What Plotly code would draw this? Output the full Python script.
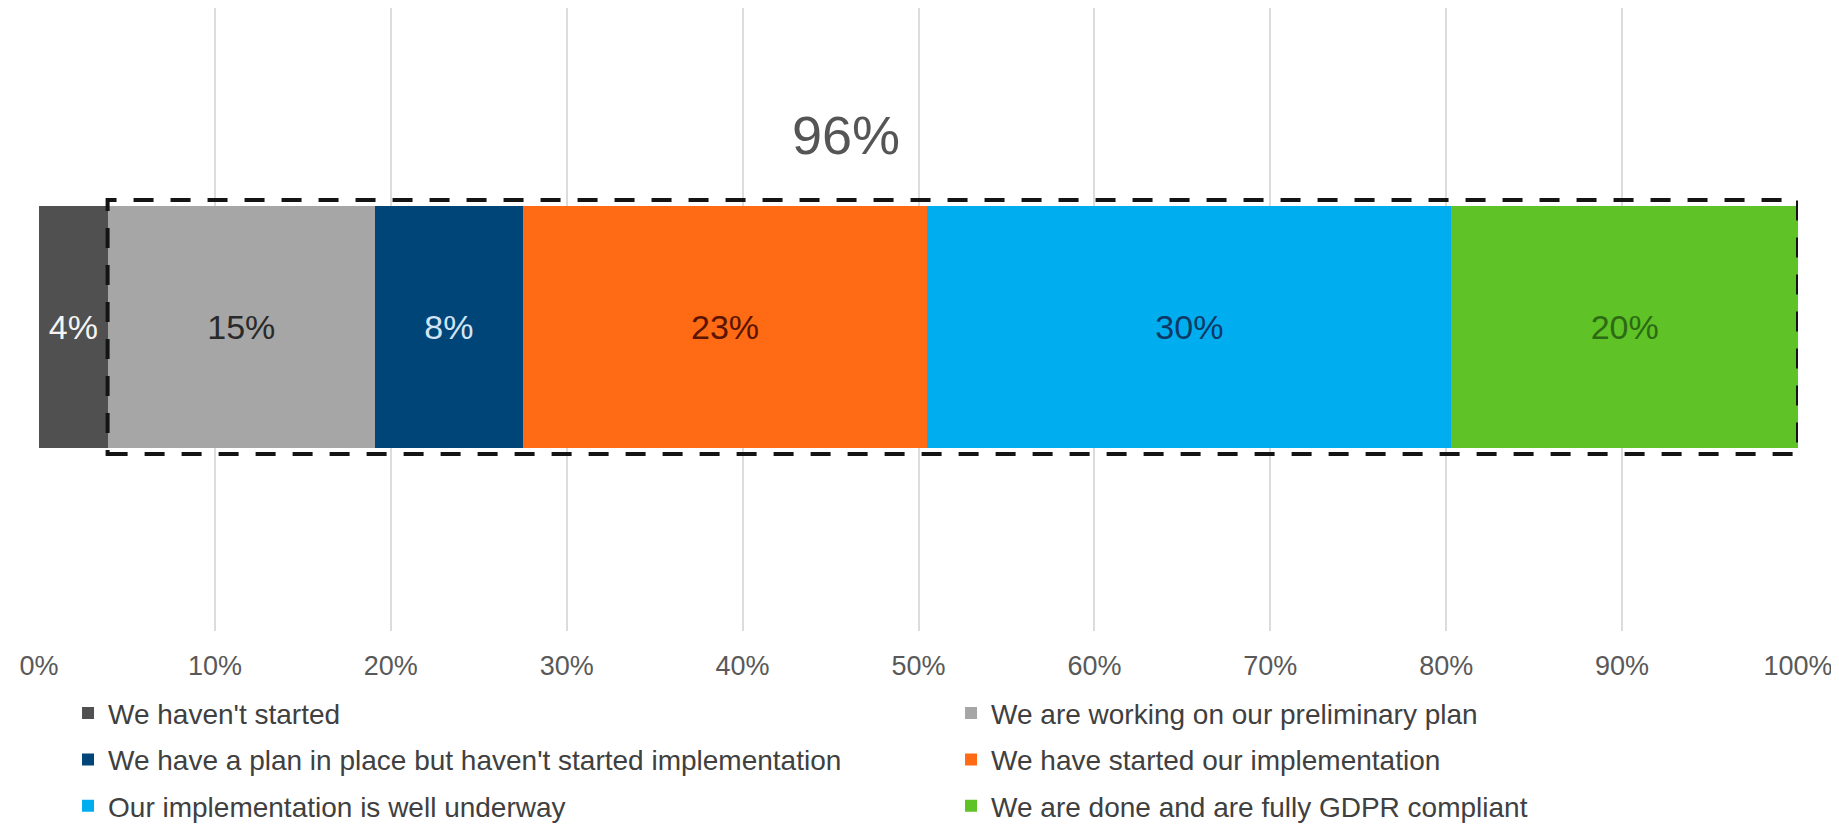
import plotly.graph_objects as go

# ---- data ----
categories = ["GDPR"]
series_names = [
    "We haven't started",
    "We are working on our preliminary plan",
    "We have a plan in place but haven't started implementation",
    "We have started our implementation",
    "Our implementation is well underway",
    "We are done and are fully GDPR compliant",
]
series_values = [3.9, 15.2, 8.4, 23.0, 29.8, 19.7]
series_colors = ["#505050", "#a6a6a6", "#004578", "#ff6a14", "#00aeef", "#5fc226"]
label_colors = ["#f4f4f4", "#2a2a2a", "#d2e4f4", "#5a1400", "#0b3a66", "#2c6a14"]
tick_values = [0, 10, 20, 30, 40, 50, 60, 70, 80, 90, 100]
tick_labels = ["0%", "10%", "20%", "30%", "40%", "50%", "60%", "70%", "80%", "90%", "100%"]

FONT = "Liberation Sans, Arial, sans-serif"

fig = go.Figure()
for i, (name, val, col, lcol) in enumerate(zip(series_names, series_values, series_colors, label_colors)):
    fig.add_trace(go.Bar(
        name=name,
        x=[val],
        y=[0],
        orientation="h",
        width=1.0,
        marker=dict(color=col, line=dict(width=0)),
        text=[f"{val:.0f}%"],
        textposition="inside",
        insidetextanchor="middle",
        constraintext="none",
        textfont=dict(family=FONT, size=34, color=lcol),
        hoverinfo="name+x",
        legend="legend" if i % 2 == 0 else "legend2",
        legendgroup=f"g{i}",
    ))

# dashed box around everything except the first segment
box_x0 = series_values[0]
box_x1 = sum(series_values)
fig.add_shape(
    type="rect", xref="x", yref="y",
    x0=box_x0, x1=box_x1, y0=-0.525, y1=0.525,
    line=dict(color="#141414", width=4, dash="20px,17px"),
    fillcolor="rgba(0,0,0,0)",
    layer="above",
)

share = sum(series_values[1:])
fig.add_annotation(
    x=0.459, y=0.796, xref="paper", yref="paper",
    text=f"{share:.0f}%", showarrow=False,
    font=dict(family=FONT, size=54, color="#555555"),
    xanchor="center", yanchor="middle",
)

legend_common = dict(
    orientation="v", traceorder="grouped",
    yanchor="top", xanchor="left", y=-0.092,
    tracegroupgap=7,
    font=dict(family=FONT, size=28, color="#404040"),
    itemwidth=30, itemclick=False, itemdoubleclick=False,
    bgcolor="rgba(0,0,0,0)",
)

fig.update_layout(
    width=1839, height=825, autosize=False,
    barmode="stack",
    plot_bgcolor="white", paper_bgcolor="white",
    margin=dict(l=31, r=49, t=0, b=202, autoexpand=False),
    font=dict(family=FONT, color="#404040"),
    xaxis=dict(
        range=[0, 100], tickvals=tick_values, ticktext=tick_labels,
        showgrid=True, gridcolor="#dcdcdc", gridwidth=2,
        zeroline=False, showline=False,
        tickfont=dict(family=FONT, size=27, color="#595959"),
        ticks="", ticklabelstandoff=16,
        fixedrange=True,
    ),
    yaxis=dict(
        range=[-1.256, 1.318], showticklabels=False, showgrid=False,
        zeroline=False, showline=False, fixedrange=True,
    ),
    showlegend=True,
    legend=dict(x=0.0165, **legend_common),
    legend2=dict(x=0.5185, **legend_common),
)

fig.write_html("out.html")
